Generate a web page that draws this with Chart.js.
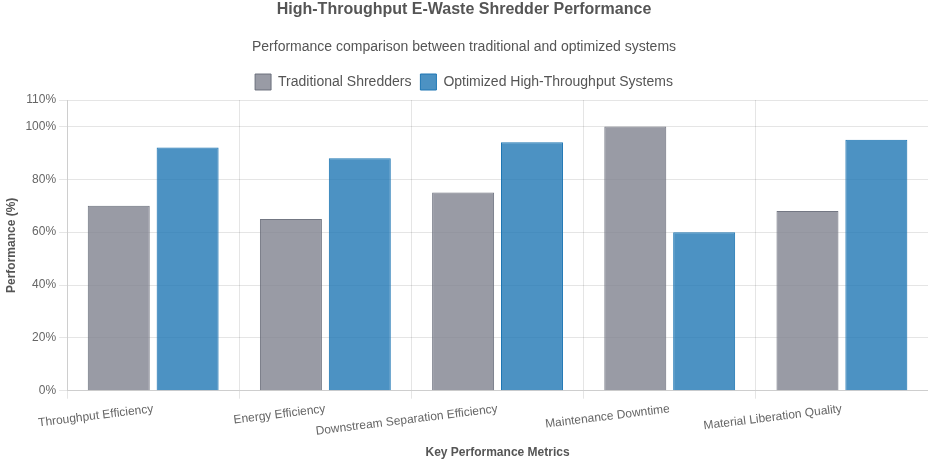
<!DOCTYPE html>
<html lang="en">
<head>
  <meta charset="UTF-8" />
  <title>High-Throughput E-Waste Shredder Performance</title>
  <script src="https://cdn.jsdelivr.net/npm/chart.js"></script>
  <style>
    html, body {
      margin: 0;
      padding: 0;
      background: #fff;
    }
    #wrap {
      width: 928px;
      height: 464px;
    }
  </style>
</head>
<body>
  <div id="wrap"><canvas id="shredderChart"></canvas></div>

  <script>
    const metrics = [
      "Throughput Efficiency",
      "Energy Efficiency",
      "Downstream Separation Efficiency",
      "Maintenance Downtime",
      "Material Liberation Quality"
    ];
    const traditional = [70, 65, 75, 100, 68];
    const optimized = [92, 88, 94, 60, 95];

    Chart.defaults.font.family = "'Liberation Sans', Arial, sans-serif";
    Chart.defaults.color = "#666";

    const ctx = document.getElementById("shredderChart").getContext("2d");
    new Chart(ctx, {
      type: "bar",
      data: {
        labels: metrics,
        datasets: [{
          label: "Traditional Shredders",
          data: traditional,
          backgroundColor: "rgba(127, 130, 143, 0.8)",
          borderColor: "rgba(100, 104, 118, 0.9)",
          borderWidth: 1
        }, {
          label: "Optimized High-Throughput Systems",
          data: optimized,
          backgroundColor: "rgba(31, 119, 180, 0.8)",
          borderColor: "rgba(31, 119, 180, 1)",
          borderWidth: 1
        }]
      },
      options: {
        responsive: true,
        maintainAspectRatio: false,
        animation: false,
        plugins: {
          title: {
            display: true,
            text: "High-Throughput E-Waste Shredder Performance",
            color: "#555",
            font: { size: 16, weight: "bold" },
            padding: { top: 0, bottom: 10 }
          },
          subtitle: {
            display: true,
            text: "Performance comparison between traditional and optimized systems",
            color: "#555",
            font: { size: 14 },
            padding: { top: 10, bottom: 9 }
          },
          legend: {
            labels: {
              font: { size: 14 },
              color: "#555",
              boxWidth: 16,
              boxHeight: 16,
              padding: 9
            }
          }
        },
        scales: {
          x: {
            title: {
              display: true,
              text: "Key Performance Metrics",
              font: { size: 12, weight: "bold" },
              color: "#555"
            }
          },
          y: {
            min: 0,
            max: 110,
            ticks: {
              stepSize: 20,
              callback: v => v + "%"
            },
            title: {
              display: true,
              text: "Performance (%)",
              font: { size: 12, weight: "bold" },
              color: "#555"
            }
          }
        }
      }
    });
  </script>
</body>
</html>
